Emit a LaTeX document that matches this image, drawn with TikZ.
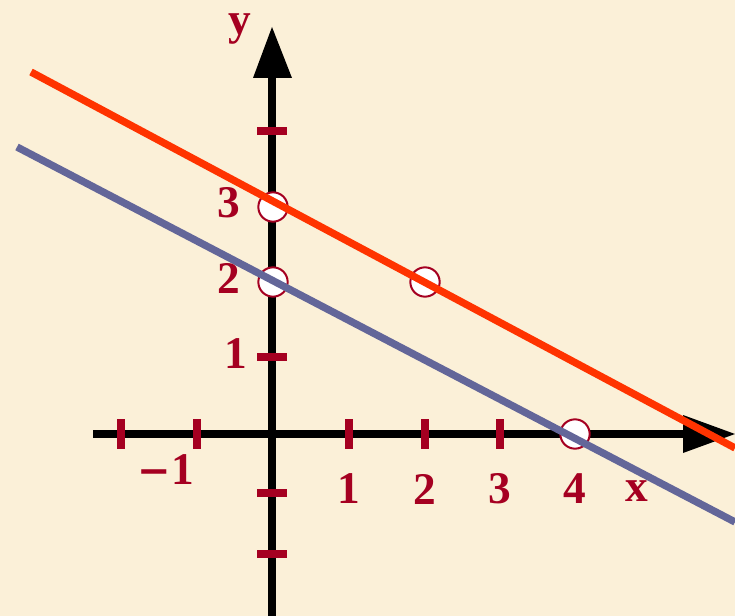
\documentclass[tikz,border=0pt]{standalone}
\usepackage{fontspec}
\setmainfont{Liberation Serif}
\definecolor{bg}{HTML}{FBF0D8}
\definecolor{tick}{HTML}{A50021}
\definecolor{redline}{HTML}{FF3300}
\definecolor{blueline}{HTML}{636699}
\tikzset{
  axisline/.style={line width=6pt},
  tickmark/.style={tick, line width=5.5pt},
  lbl/.style={text=tick, font=\fontsize{34}{34}\selectfont\bfseries, inner sep=0pt},
  pt/.style={circle, draw=tick, fill=white, line width=1.5pt, minimum size=22pt, inner sep=0pt},
}
\begin{document}
\begin{tikzpicture}[x=0.75pt,y=-0.75pt]
\fill[bg] (0,0) rectangle (735,616);
\useasboundingbox (0,0) rectangle (735,616);
% axes
\coordinate (yb) at (272,616);
\coordinate (yt) at (272,78);
\coordinate (xl) at (93,434);
\coordinate (xr) at (685,434);
\draw[axisline] (yb) -- (yt);
\draw[axisline] (xl) -- (xr);
\fill (253,78) -- (272,27) -- (292,78) -- cycle;
\fill (683,415) -- (735,434) -- (683,453) -- cycle;
% ticks
\foreach \x in {121,197,349,425,500} \draw[tickmark] (\x,419) -- (\x,449);
\foreach \y in {131,357,493,554} \draw[tickmark] (257,\y) -- (287,\y);
% points
\node[pt] (p3) at (273,207) {};
\node[pt] (p2) at (273,282) {};
\node[pt] (q2) at (425,282) {};
\node[pt] (x4) at (575,434) {};
% lines (drawn over the points)
\coordinate (r1) at (31,72);
\coordinate (r2) at (735,448);
\coordinate (b1) at (17,147);
\coordinate (b2) at (735,522);
\draw[redline, line width=5.5pt] (r1) -- (r2);
\draw[blueline, line width=5.5pt] (b1) -- (b2);
% labels
\node[lbl] (ly) at (240,29) {y};
\node[lbl] (l3) at (229,203) {3};
\node[lbl] (l2) at (229,278) {2};
\node[lbl] (l1) at (236,354) {1};
\node[lbl] (lm1) at (166,470) {\fontspec{DejaVu Serif}\bfseries\fontsize{30}{30}\selectfont −\fontspec{Liberation Serif}\bfseries\fontsize{34}{34}\selectfont 1};
\node[lbl] (x1) at (349,489) {1};
\node[lbl] (x2) at (425,489) {2};
\node[lbl] (x3) at (500,489) {3};
\node[lbl] (x4l) at (575,489) {4};
\node[lbl] (lx) at (637,491) {x};
\end{tikzpicture}
\end{document}
